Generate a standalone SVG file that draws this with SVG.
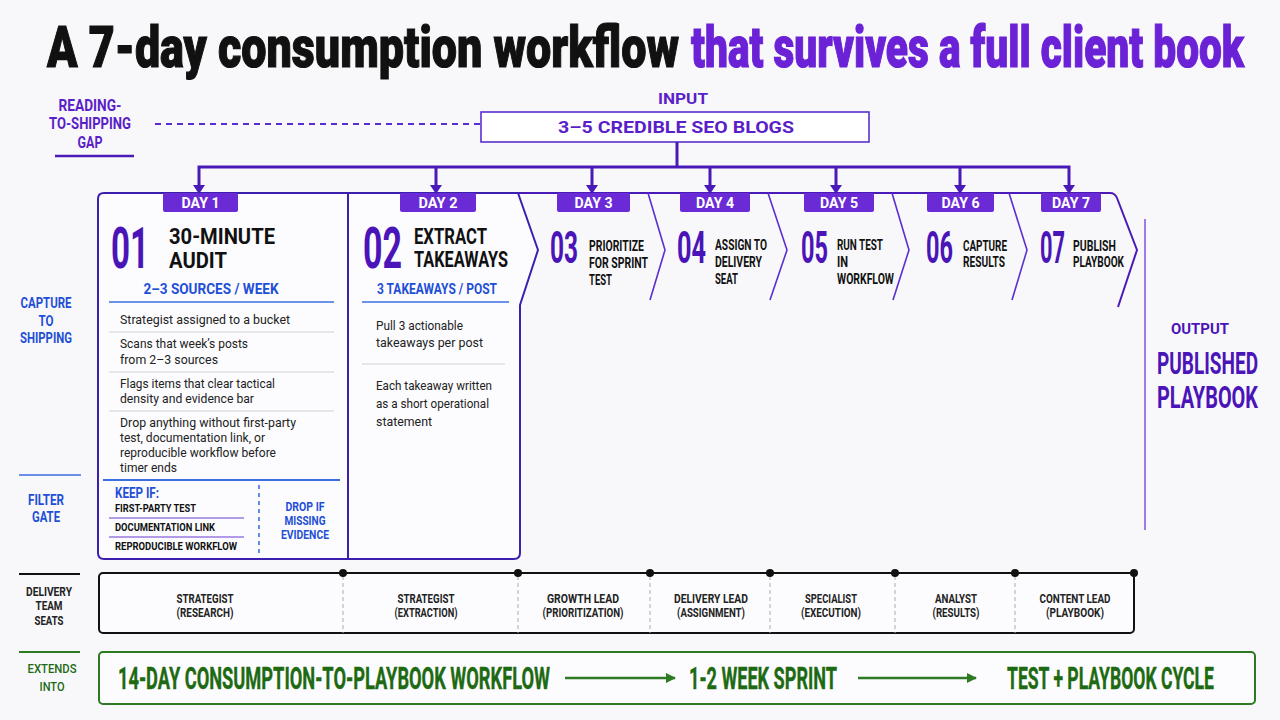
<svg xmlns="http://www.w3.org/2000/svg" width="1280" height="720" viewBox="0 0 1280 720">
<style>
text{font-family:Roboto,"Liberation Sans",Arial,sans-serif;}
.b{font-weight:700;}
.pur{fill:#5a1fc9;}
.num{fill:#4b14b8;font-weight:700;}
.blue{fill:#1f4fd6;font-weight:700;}
.blk{fill:#111;font-weight:700;}
.body{fill:#222;font-size:13.5px;}
.badge{fill:#6a2ad6;}
.bt{fill:#fff;font-weight:700;font-size:15px;text-anchor:middle;}
.sep{stroke:#cfcfd6;stroke-width:1.2;}
.seat{fill:#222;font-weight:700;font-size:12px;text-anchor:middle;}
.grn{fill:#1e6a12;font-weight:700;stroke:#1e6a12;stroke-width:0.4;}
.conn{stroke:#4a1ab8;stroke-width:3;fill:none;}
.chev{stroke:#5a2fd0;stroke-width:1.6;fill:none;}
.mid{text-anchor:middle;}
</style>
<defs>
<marker id="ga" markerWidth="10" markerHeight="10" refX="9" refY="5" orient="auto" markerUnits="userSpaceOnUse"><path d="M0,0 L10,5 L0,10 Z" fill="#2d7a22"/></marker>
</defs>
<rect width="1280" height="720" fill="#f8f8fa"/>

<g id="title">
<text x="47" y="67" font-size="58" font-weight="900" fill="#111" stroke="#111" stroke-width="1.2" textLength="632" lengthAdjust="spacingAndGlyphs">A 7-day consumption workflow</text>
<text x="691" y="67" font-size="58" font-weight="900" fill="#6b21d6" stroke="#6b21d6" stroke-width="1.2" textLength="553" lengthAdjust="spacingAndGlyphs">that survives a full client book</text>
</g>

<g id="gap-label">
<text x="90" y="111" font-size="16" class="b pur mid" textLength="63" lengthAdjust="spacingAndGlyphs">READING-</text>
<text x="90" y="129" font-size="16" class="b pur mid" textLength="82" lengthAdjust="spacingAndGlyphs">TO-SHIPPING</text>
<text x="90" y="148" font-size="16" class="b pur mid" textLength="25" lengthAdjust="spacingAndGlyphs">GAP</text>
<line x1="55" y1="156" x2="134" y2="156" stroke="#4a1ab8" stroke-width="2.5"/>
</g>

<g id="side-labels">
<text x="46" y="308" font-size="14" class="blue mid" textLength="51" lengthAdjust="spacingAndGlyphs">CAPTURE</text>
<text x="46" y="326" font-size="14" class="blue mid" textLength="15" lengthAdjust="spacingAndGlyphs">TO</text>
<text x="46" y="343" font-size="14" class="blue mid" textLength="52" lengthAdjust="spacingAndGlyphs">SHIPPING</text>
<line x1="19" y1="475" x2="81" y2="475" stroke="#3b6fe0" stroke-width="1.5"/>
<text x="46" y="505" font-size="14" class="blue mid" textLength="36" lengthAdjust="spacingAndGlyphs">FILTER</text>
<text x="46" y="522" font-size="14" class="blue mid" textLength="28" lengthAdjust="spacingAndGlyphs">GATE</text>
<line x1="19" y1="574" x2="80" y2="574" stroke="#111" stroke-width="2"/>
<text x="49" y="596" font-size="12" class="seat" textLength="46" lengthAdjust="spacingAndGlyphs">DELIVERY</text>
<text x="49" y="610" font-size="12" class="seat" textLength="27" lengthAdjust="spacingAndGlyphs">TEAM</text>
<text x="49" y="625" font-size="12" class="seat" textLength="29" lengthAdjust="spacingAndGlyphs">SEATS</text>
<line x1="19" y1="652" x2="80" y2="652" stroke="#2d7a22" stroke-width="2"/>
<text x="52" y="673" font-size="12" font-weight="500" fill="#1e6a12" text-anchor="middle" textLength="49" lengthAdjust="spacingAndGlyphs">EXTENDS</text>
<text x="52" y="691" font-size="12" font-weight="500" fill="#1e6a12" text-anchor="middle" textLength="25" lengthAdjust="spacingAndGlyphs">INTO</text>
</g>

<g id="input">
<text x="683" y="104" font-size="15" class="b pur mid" textLength="50" lengthAdjust="spacingAndGlyphs">INPUT</text>
<rect x="481" y="112" width="388" height="30" fill="#fff" stroke="#5a2fd0" stroke-width="1.6"/>
<text x="676" y="133" font-size="17" class="b pur mid" textLength="236" lengthAdjust="spacingAndGlyphs">3–5 CREDIBLE SEO BLOGS</text>
</g>

<g id="frame">
<path d="M104,193 H1110 Q1115,193 1117,198 L1137,250 L1118,307" fill="none" stroke="#4a1ab8" stroke-width="2"/>
<path d="M648,193 L665,250 L650,300" class="chev"/>
<path d="M768,193 L787,250 L770,300" class="chev"/>
<path d="M892,193 L909,250 L893,300" class="chev"/>
<path d="M1009,193 L1027,250 L1012,300" class="chev"/>
<line x1="1145" y1="219" x2="1145" y2="530" stroke="#8a5ae6" stroke-width="1.6"/>
</g>

<g id="day1">
<path d="M348,193 H104 Q98,193 98,199 V553 Q98,559 104,559 H348 Z" fill="#fcfcfe" stroke="#3d1fb0" stroke-width="2"/>
<rect x="163" y="193" width="75" height="19" rx="2" class="badge"/>
<text x="200.5" y="208" class="bt" textLength="38" lengthAdjust="spacingAndGlyphs">DAY 1</text>
<text x="111" y="268" font-size="58" class="num" textLength="38" lengthAdjust="spacingAndGlyphs">01</text>
<text x="169" y="244" font-size="22" class="blk" textLength="106" lengthAdjust="spacingAndGlyphs">30-MINUTE</text>
<text x="169" y="268" font-size="22" class="blk" textLength="58" lengthAdjust="spacingAndGlyphs">AUDIT</text>
<text x="211" y="294" font-size="14" class="blue mid" textLength="135" lengthAdjust="spacingAndGlyphs">2–3 SOURCES / WEEK</text>
<line x1="109" y1="302" x2="334" y2="302" stroke="#3b6fe0" stroke-width="1.6"/>
<text x="120" y="324" class="body" textLength="170" lengthAdjust="spacingAndGlyphs">Strategist assigned to a bucket</text>
<line x1="109" y1="332" x2="334" y2="332" class="sep"/>
<text x="120" y="348" class="body" textLength="128" lengthAdjust="spacingAndGlyphs">Scans that week’s posts</text>
<text x="120" y="364" class="body" textLength="98" lengthAdjust="spacingAndGlyphs">from 2–3 sources</text>
<line x1="109" y1="372" x2="334" y2="372" class="sep"/>
<text x="120" y="388" class="body" textLength="155" lengthAdjust="spacingAndGlyphs">Flags items that clear tactical</text>
<text x="120" y="403" class="body" textLength="134" lengthAdjust="spacingAndGlyphs">density and evidence bar</text>
<line x1="109" y1="411" x2="334" y2="411" class="sep"/>
<text x="120" y="427" class="body" textLength="176" lengthAdjust="spacingAndGlyphs">Drop anything without first-party</text>
<text x="120" y="442" class="body" textLength="145" lengthAdjust="spacingAndGlyphs">test, documentation link, or</text>
<text x="120" y="457" class="body" textLength="156" lengthAdjust="spacingAndGlyphs">reproducible workflow before</text>
<text x="120" y="472" class="body" textLength="57" lengthAdjust="spacingAndGlyphs">timer ends</text>
<line x1="103" y1="480" x2="340" y2="480" stroke="#3b6fe0" stroke-width="1.8"/>
<text x="115" y="498" font-size="14" class="blue" textLength="44" lengthAdjust="spacingAndGlyphs">KEEP IF:</text>
<text x="115" y="512" font-size="11" class="blk" font-weight="600" textLength="81" lengthAdjust="spacingAndGlyphs">FIRST-PARTY TEST</text>
<line x1="109" y1="518" x2="244" y2="518" stroke="#9a7ae0" stroke-width="1.4"/>
<text x="115" y="531" font-size="11" class="blk" textLength="100" lengthAdjust="spacingAndGlyphs">DOCUMENTATION LINK</text>
<line x1="109" y1="537" x2="244" y2="537" stroke="#9a7ae0" stroke-width="1.4"/>
<text x="115" y="550" font-size="11" class="blk" textLength="122" lengthAdjust="spacingAndGlyphs">REPRODUCIBLE WORKFLOW</text>
<line x1="259" y1="485" x2="259" y2="553" stroke="#3b6fe0" stroke-width="1.6" stroke-dasharray="4,4"/>
<text x="305" y="511" font-size="13" class="blue mid" textLength="39" lengthAdjust="spacingAndGlyphs">DROP IF</text>
<text x="305" y="525" font-size="13" class="blue mid" textLength="41" lengthAdjust="spacingAndGlyphs">MISSING</text>
<text x="305" y="539" font-size="13" class="blue mid" textLength="48" lengthAdjust="spacingAndGlyphs">EVIDENCE</text>
</g>

<g id="day2">
<path d="M348,193 H518 L538,250 L520,305 V553 Q520,559 514,559 H348 Z" fill="#fcfcfe" stroke="#3d1fb0" stroke-width="2" stroke-linejoin="round"/>
<rect x="400" y="193" width="76" height="19" rx="2" class="badge"/>
<text x="438" y="208" class="bt" textLength="39" lengthAdjust="spacingAndGlyphs">DAY 2</text>
<text x="363" y="268" font-size="58" class="num" textLength="39" lengthAdjust="spacingAndGlyphs">02</text>
<text x="414" y="244" font-size="22" class="blk" textLength="73" lengthAdjust="spacingAndGlyphs">EXTRACT</text>
<text x="414" y="267" font-size="22" class="blk" textLength="94" lengthAdjust="spacingAndGlyphs">TAKEAWAYS</text>
<text x="437" y="294" font-size="14" class="blue mid" textLength="120" lengthAdjust="spacingAndGlyphs">3 TAKEAWAYS / POST</text>
<line x1="362" y1="302" x2="509" y2="302" stroke="#3b6fe0" stroke-width="1.6"/>
<text x="376" y="330" class="body" textLength="87" lengthAdjust="spacingAndGlyphs">Pull 3 actionable</text>
<text x="376" y="347" class="body" textLength="107" lengthAdjust="spacingAndGlyphs">takeaways per post</text>
<line x1="362" y1="364" x2="505" y2="364" class="sep"/>
<text x="376" y="390" class="body" textLength="116" lengthAdjust="spacingAndGlyphs">Each takeaway written</text>
<text x="376" y="408" class="body" textLength="113" lengthAdjust="spacingAndGlyphs">as a short operational</text>
<text x="376" y="426" class="body" textLength="56" lengthAdjust="spacingAndGlyphs">statement</text>
</g>

<g id="day3">
<rect x="557" y="193" width="73" height="19" rx="2" class="badge"/>
<text x="593.5" y="208" class="bt" textLength="38" lengthAdjust="spacingAndGlyphs">DAY 3</text>
<text x="550" y="263" font-size="44" class="num" textLength="28" lengthAdjust="spacingAndGlyphs">03</text>
<text x="589" y="251" font-size="14.5" class="blk" textLength="55" lengthAdjust="spacingAndGlyphs">PRIORITIZE</text>
<text x="589" y="268" font-size="14.5" class="blk" textLength="59" lengthAdjust="spacingAndGlyphs">FOR SPRINT</text>
<text x="589" y="285" font-size="14.5" class="blk" textLength="23" lengthAdjust="spacingAndGlyphs">TEST</text>
</g>

<g id="day4">
<rect x="680" y="193" width="70" height="19" rx="2" class="badge"/>
<text x="715" y="208" class="bt" textLength="38" lengthAdjust="spacingAndGlyphs">DAY 4</text>
<text x="677" y="263" font-size="44" class="num" textLength="29" lengthAdjust="spacingAndGlyphs">04</text>
<text x="715" y="250" font-size="14.5" class="blk" textLength="52" lengthAdjust="spacingAndGlyphs">ASSIGN TO</text>
<text x="715" y="267" font-size="14.5" class="blk" textLength="47" lengthAdjust="spacingAndGlyphs">DELIVERY</text>
<text x="715" y="284" font-size="14.5" class="blk" textLength="23" lengthAdjust="spacingAndGlyphs">SEAT</text>
</g>

<g id="day5">
<rect x="804" y="193" width="70" height="19" rx="2" class="badge"/>
<text x="839" y="208" class="bt" textLength="38" lengthAdjust="spacingAndGlyphs">DAY 5</text>
<text x="801" y="263" font-size="44" class="num" textLength="27" lengthAdjust="spacingAndGlyphs">05</text>
<text x="837" y="250" font-size="14.5" class="blk" textLength="46" lengthAdjust="spacingAndGlyphs">RUN TEST</text>
<text x="837" y="267" font-size="14.5" class="blk" textLength="11" lengthAdjust="spacingAndGlyphs">IN</text>
<text x="837" y="284" font-size="14.5" class="blk" textLength="57" lengthAdjust="spacingAndGlyphs">WORKFLOW</text>
</g>

<g id="day6">
<rect x="927" y="193" width="67" height="19" rx="2" class="badge"/>
<text x="960.5" y="208" class="bt" textLength="38" lengthAdjust="spacingAndGlyphs">DAY 6</text>
<text x="926" y="263" font-size="44" class="num" textLength="27" lengthAdjust="spacingAndGlyphs">06</text>
<text x="963" y="251" font-size="14.5" class="blk" textLength="44" lengthAdjust="spacingAndGlyphs">CAPTURE</text>
<text x="963" y="267" font-size="14.5" class="blk" textLength="42" lengthAdjust="spacingAndGlyphs">RESULTS</text>
</g>

<g id="day7">
<rect x="1041" y="193" width="60" height="19" rx="2" class="badge"/>
<text x="1071" y="208" class="bt" textLength="38" lengthAdjust="spacingAndGlyphs">DAY 7</text>
<text x="1040" y="263" font-size="44" class="num" textLength="25" lengthAdjust="spacingAndGlyphs">07</text>
<text x="1073" y="251" font-size="14.5" class="blk" textLength="43" lengthAdjust="spacingAndGlyphs">PUBLISH</text>
<text x="1073" y="267" font-size="14.5" class="blk" textLength="51" lengthAdjust="spacingAndGlyphs">PLAYBOOK</text>
</g>

<g id="output">
<text x="1200" y="334" font-size="15" class="num mid" textLength="58" lengthAdjust="spacingAndGlyphs">OUTPUT</text>
<text x="1157" y="374" font-size="32" class="num" textLength="101" lengthAdjust="spacingAndGlyphs">PUBLISHED</text>
<text x="1157" y="408" font-size="32" class="num" textLength="101" lengthAdjust="spacingAndGlyphs">PLAYBOOK</text>
</g>

<g id="seats">
<rect x="99" y="573" width="1035" height="60" rx="4" fill="#fcfcfe" stroke="#111" stroke-width="2"/>
<g stroke="#aaa" stroke-width="1" stroke-dasharray="4,3">
<line x1="343" y1="576" x2="343" y2="633"/>
<line x1="518" y1="576" x2="518" y2="633"/>
<line x1="650" y1="576" x2="650" y2="633"/>
<line x1="770" y1="576" x2="770" y2="633"/>
<line x1="895" y1="576" x2="895" y2="633"/>
<line x1="1015" y1="576" x2="1015" y2="633"/>
</g>
<g fill="#111">
<circle cx="343" cy="573" r="4"/><circle cx="518" cy="573" r="4"/><circle cx="650" cy="573" r="4"/><circle cx="770" cy="573" r="4"/><circle cx="895" cy="573" r="4"/><circle cx="1015" cy="573" r="4"/><circle cx="1134" cy="573" r="4"/>
</g>
<text x="205" y="603" class="seat" textLength="57" lengthAdjust="spacingAndGlyphs">STRATEGIST</text>
<text x="205" y="617" class="seat" textLength="57" lengthAdjust="spacingAndGlyphs">(RESEARCH)</text>
<text x="426" y="603" class="seat" textLength="57" lengthAdjust="spacingAndGlyphs">STRATEGIST</text>
<text x="426" y="617" class="seat" textLength="63" lengthAdjust="spacingAndGlyphs">(EXTRACTION)</text>
<text x="583" y="603" class="seat" textLength="72" lengthAdjust="spacingAndGlyphs">GROWTH LEAD</text>
<text x="583" y="617" class="seat" textLength="81" lengthAdjust="spacingAndGlyphs">(PRIORITIZATION)</text>
<text x="711" y="603" class="seat" textLength="74" lengthAdjust="spacingAndGlyphs">DELIVERY LEAD</text>
<text x="711" y="617" class="seat" textLength="68" lengthAdjust="spacingAndGlyphs">(ASSIGNMENT)</text>
<text x="831" y="603" class="seat" textLength="52" lengthAdjust="spacingAndGlyphs">SPECIALIST</text>
<text x="831" y="617" class="seat" textLength="60" lengthAdjust="spacingAndGlyphs">(EXECUTION)</text>
<text x="956" y="603" class="seat" textLength="42" lengthAdjust="spacingAndGlyphs">ANALYST</text>
<text x="956" y="617" class="seat" textLength="47" lengthAdjust="spacingAndGlyphs">(RESULTS)</text>
<text x="1075" y="603" class="seat" textLength="71" lengthAdjust="spacingAndGlyphs">CONTENT LEAD</text>
<text x="1075" y="617" class="seat" textLength="58" lengthAdjust="spacingAndGlyphs">(PLAYBOOK)</text>
</g>

<g id="extends">
<rect x="99" y="652" width="1156" height="52" rx="4" fill="#fcfcfe" stroke="#2d7a22" stroke-width="2"/>
<text x="118" y="689" font-size="31" class="grn" textLength="432" lengthAdjust="spacingAndGlyphs">14-DAY CONSUMPTION-TO-PLAYBOOK WORKFLOW</text>
<text x="689" y="689" font-size="31" class="grn" textLength="148" lengthAdjust="spacingAndGlyphs">1-2 WEEK SPRINT</text>
<text x="1007" y="689" font-size="31" class="grn" textLength="207" lengthAdjust="spacingAndGlyphs">TEST + PLAYBOOK CYCLE</text>
</g>

<g id="connectors">
<line x1="155" y1="124" x2="481" y2="124" stroke="#5a2fd0" stroke-width="1.8" stroke-dasharray="6,5"/>
<line x1="677" y1="142" x2="677" y2="167" class="conn"/>
<path d="M199,186 V167 H1069 V186" class="conn"/>
<line x1="436" y1="167" x2="436" y2="186" class="conn"/>
<line x1="592" y1="167" x2="592" y2="186" class="conn"/>
<line x1="710" y1="167" x2="710" y2="186" class="conn"/>
<line x1="836" y1="167" x2="836" y2="186" class="conn"/>
<line x1="960" y1="167" x2="960" y2="186" class="conn"/>
<g fill="#4a1ab8">
<polygon points="193,185 205,185 199,194"/>
<polygon points="430,185 442,185 436,194"/>
<polygon points="586,185 598,185 592,194"/>
<polygon points="704,185 716,185 710,194"/>
<polygon points="830,185 842,185 836,194"/>
<polygon points="954,185 966,185 960,194"/>
<polygon points="1063,185 1075,185 1069,194"/>
</g>
<line x1="565" y1="678" x2="675" y2="678" stroke="#2d7a22" stroke-width="2.5" marker-end="url(#ga)"/>
<line x1="858" y1="678" x2="976" y2="678" stroke="#2d7a22" stroke-width="2.5" marker-end="url(#ga)"/>
</g>
</svg>
